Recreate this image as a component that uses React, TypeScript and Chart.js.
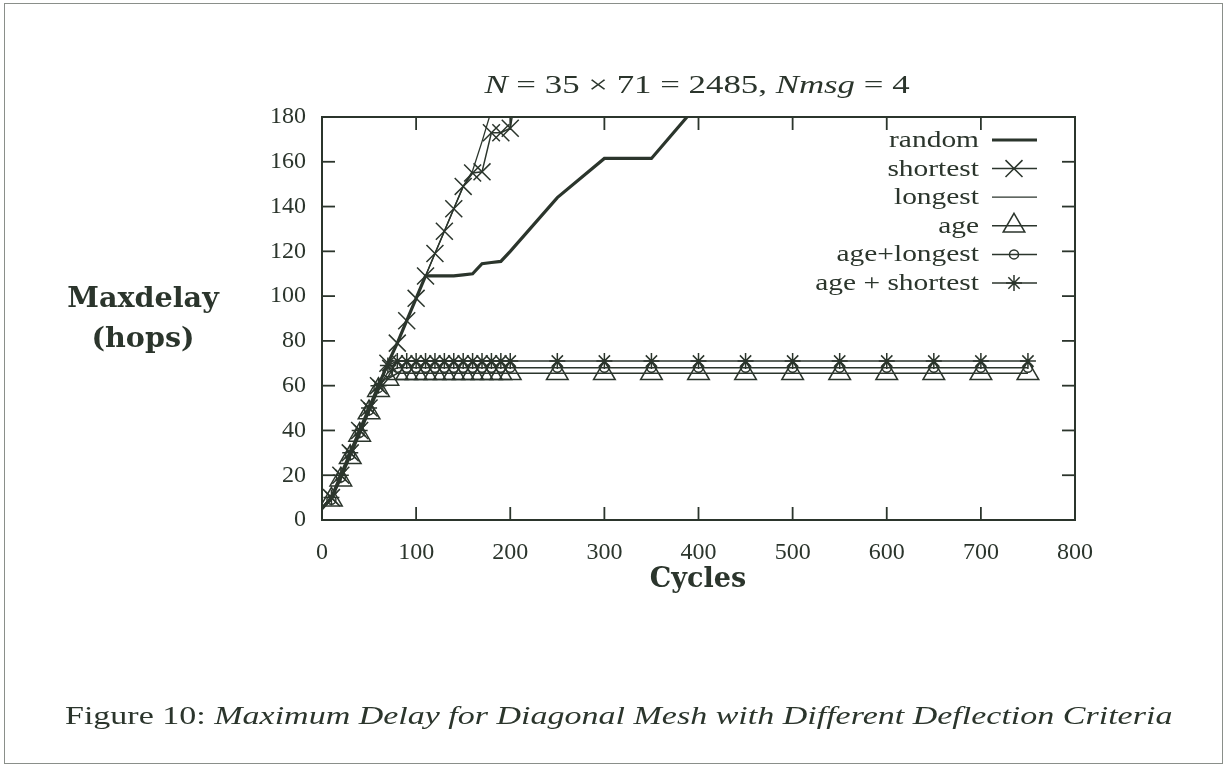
import React, { useEffect, useRef } from 'react';
import { Chart, registerables } from 'chart.js';
import { drawPoint } from 'chart.js/helpers';

Chart.register(...registerables);

const INK = '#2b352c';
const SERIF = "'Liberation Serif', 'DejaVu Serif', serif";

// Cycles (x) for the different runs
const randomX = [0, 10, 20, 30, 40, 50, 60, 70, 80, 90, 100, 110, 120, 130, 140, 150, 160, 170, 180, 190, 200, 250, 300, 350, 400];
const randomY = [5, 10, 20, 30, 40, 50, 60, 70, 79, 89, 99, 109, 109, 109, 109, 109.5, 110, 114.5, 115, 115.5, 120, 144, 161.5, 161.5, 186];

const shortestX = [0, 10, 20, 30, 40, 50, 60, 70, 80, 90, 100, 110, 120, 130, 140, 150, 160, 170, 180, 190, 200, 210];
const shortestY = [5, 10, 20, 30, 40, 50, 60, 70, 79, 89, 99, 109, 119, 129, 139, 149, 155, 155.5, 173, 173, 175, 200];

const longestX = [0, 10, 20, 30, 40, 50, 60, 70, 80, 90, 100, 110, 120, 130, 140, 150, 160, 170, 180];
const longestY = [5, 10, 20, 30, 40, 50, 60, 70, 79, 89, 99, 109, 119, 129, 139, 149, 156, 169, 183];

const ageX = [0, 10, 20, 30, 40, 50, 60, 70, 80, 90, 100, 110, 120, 130, 140, 150, 160, 170, 180, 190, 200, 250, 300, 350, 400, 450, 500, 550, 600, 650, 700, 750];
const ageY = [5, 9, 18, 28, 38, 48, 58, 63, 65.5, 65.5, 65.5, 65.5, 65.5, 65.5, 65.5, 65.5, 65.5, 65.5, 65.5, 65.5, 65.5, 65.5, 65.5, 65.5, 65.5, 65.5, 65.5, 65.5, 65.5, 65.5, 65.5, 65.5];
const ageLongestY = [5, 9, 19, 29, 39, 49, 59, 66, 68, 68, 68, 68, 68, 68, 68, 68, 68, 68, 68, 68, 68, 68, 68, 68, 68, 68, 68, 68, 68, 68, 68, 68];
const ageShortestY = [5, 10, 20, 30, 40, 50, 60, 69, 71, 71, 71, 71, 71, 71, 71, 71, 71, 71, 71, 71, 71, 71, 71, 71, 71, 71, 71, 71, 71, 71, 71, 71];

const xTicks = [0, 100, 200, 300, 400, 500, 600, 700, 800];
const yTicks = [0, 20, 40, 60, 80, 100, 120, 140, 160, 180];

const seriesNames = ['random', 'shortest', 'longest', 'age', 'age+longest', 'age + shortest'];

const pts = (xs: number[], ys: number[]) => xs.map((x, i) => ({ x, y: ys[i] }));
const firstHidden = (r: number) => (c: any) => (c.dataIndex === 0 ? 0 : r);

const frameAndLegend = {
  id: 'frameAndLegend',
  afterDraw(chart: any) {
    const { ctx, chartArea: a, scales } = chart;
    const xs = scales.x;
    const ys = scales.y;
    ctx.save();
    ctx.strokeStyle = INK;
    ctx.lineWidth = 2;
    ctx.strokeRect(a.left, a.top, a.right - a.left, a.bottom - a.top);
    ctx.lineWidth = 1.8;
    const seg = (x1: number, y1: number, x2: number, y2: number) => {
      ctx.beginPath();
      ctx.moveTo(x1, y1);
      ctx.lineTo(x2, y2);
      ctx.stroke();
    };
    const L = 13;
    xTicks.forEach((v) => {
      const px = xs.getPixelForValue(v);
      seg(px, a.bottom, px, a.bottom - L);
      seg(px, a.top, px, a.top + L);
    });
    yTicks.forEach((v) => {
      const py = ys.getPixelForValue(v);
      seg(a.left, py, a.left + L, py);
      seg(a.right, py, a.right - L, py);
    });

    // legend (inside, top right)
    chart.data.datasets.forEach((ds: any, i: number) => {
      const y = a.top + 23 + i * 28.6;
      ctx.save();
      ctx.font = `23px ${SERIF}`;
      ctx.fillStyle = INK;
      ctx.textAlign = 'right';
      ctx.textBaseline = 'middle';
      ctx.translate(a.right - 96, y + 1);
      ctx.scale(1.28, 1);
      ctx.fillText(ds.label, 0, 0);
      ctx.restore();
      ctx.save();
      ctx.lineWidth = ds.borderWidth;
      ctx.strokeStyle = INK;
      seg(a.right - 83, y, a.right - 38, y);
      const r = typeof ds.legendRadius === 'number' ? ds.legendRadius : 0;
      if (r > 0) {
        ctx.fillStyle = 'rgba(0,0,0,0)';
        ctx.lineWidth = ds.pointBorderWidth;
        drawPoint(ctx, {
          pointStyle: ds.pointStyle,
          radius: r,
          rotation: 0,
          borderWidth: ds.pointBorderWidth,
        } as any, a.right - 61, y);
      }
      ctx.restore();
    });
    ctx.restore();
  },
};

export default function App() {
  const ref = useRef<HTMLCanvasElement | null>(null);
  useEffect(() => {
    if (!ref.current) return;
    const common = {
      borderColor: INK,
      pointBorderColor: INK,
      pointBackgroundColor: 'rgba(0,0,0,0)',
      pointBorderWidth: 1.5,
      tension: 0,
      clip: 0,
      fill: false,
    };
    const chart = new Chart(ref.current, {
      type: 'line',
      data: {
        datasets: [
          { ...common, label: seriesNames[0], data: pts(randomX, randomY), borderWidth: 3.2, pointRadius: 0, legendRadius: 0 } as any,
          { ...common, label: seriesNames[1], data: pts(shortestX, shortestY), borderWidth: 1.5, pointStyle: 'crossRot', pointRadius: firstHidden(12), legendRadius: 12 } as any,
          { ...common, label: seriesNames[2], data: pts(longestX, longestY), borderWidth: 1.3, pointRadius: 0, legendRadius: 0 } as any,
          { ...common, label: seriesNames[3], data: pts(ageX, ageY), borderWidth: 1.5, pointStyle: 'triangle', pointRadius: firstHidden(12.5), legendRadius: 12.5 } as any,
          { ...common, label: seriesNames[4], data: pts(ageX, ageLongestY), borderWidth: 1.5, pointStyle: 'circle', pointRadius: firstHidden(4.5), legendRadius: 4.5 } as any,
          { ...common, label: seriesNames[5], data: pts(ageX, ageShortestY), borderWidth: 1.5, pointStyle: 'star', pointRadius: firstHidden(8), legendRadius: 8 } as any,
        ],
      },
      options: {
        responsive: false,
        animation: false,
        events: [],
        layout: { padding: { left: 267, top: 117, right: 154, bottom: 204 } },
        plugins: {
          legend: { display: false },
          tooltip: { enabled: false },
          title: { display: false },
        },
        scales: {
          x: {
            type: 'linear',
            min: 0,
            max: 800,
            afterBuildTicks: (s: any) => {
              s.ticks = xTicks.map((v) => ({ value: v }));
            },
            afterFit: (s: any) => {
              s.height = 45;
            },
            ticks: {
              autoSkip: false,
              maxRotation: 0,
              padding: 18,
              color: INK,
              font: { family: SERIF, size: 24 },
            },
            grid: { display: false, drawTicks: false },
            border: { display: false },
          },
          y: {
            type: 'linear',
            min: 0,
            max: 180,
            afterBuildTicks: (s: any) => {
              s.ticks = yTicks.map((v) => ({ value: v }));
            },
            afterFit: (s: any) => {
              s.width = 55;
            },
            ticks: {
              autoSkip: false,
              padding: 16,
              color: INK,
              font: { family: SERIF, size: 24 },
            },
            grid: { display: false, drawTicks: false },
            border: { display: false },
          },
        },
      } as any,
      plugins: [frameAndLegend],
    });
    return () => chart.destroy();
  }, []);

  const abs = (s: React.CSSProperties): React.CSSProperties => ({ position: 'absolute', color: INK, fontFamily: SERIF, whiteSpace: 'nowrap', lineHeight: 1, ...s });
  const BOLD = "'DejaVu Serif', serif";

  return (
    <div style={{ position: 'absolute', left: 0, top: 0, width: 1229, height: 769, background: '#ffffff', overflow: 'hidden' }}>
      <div style={{ position: 'absolute', left: 4, top: 3, width: 1219, height: 761, border: '1.5px solid #8a8f8a', boxSizing: 'border-box' }} />
      <canvas ref={ref} width={1229} height={769} style={{ position: 'absolute', left: 0, top: 0, width: 1229, height: 769 }} />
      <div style={abs({ left: 397, width: 600, top: 72, textAlign: 'center', fontSize: 26, transform: 'scaleX(1.34)', transformOrigin: '300px 0' })}>
        <i>N</i> = 35 × 71 = 2485, <i>Nmsg</i> = 4
      </div>
      <div style={abs({ left: 43, width: 200, top: 284, textAlign: 'center', fontSize: 27, fontWeight: 'bold', fontFamily: BOLD, transform: 'scaleX(1.06)' })}>Maxdelay</div>
      <div style={abs({ left: 43, width: 200, top: 324, textAlign: 'center', fontSize: 27, fontWeight: 'bold', fontFamily: BOLD, transform: 'scaleX(1.06)' })}>(hops)</div>
      <div style={abs({ left: 598, width: 200, top: 564, textAlign: 'center', fontSize: 27, fontWeight: 'bold', fontFamily: BOLD })}>Cycles</div>
      <div style={abs({ left: 65, top: 703, fontSize: 25, transform: 'scaleX(1.36)', transformOrigin: '0 0' })}>
        Figure 10: <i>Maximum Delay for Diagonal Mesh with Different Deflection Criteria</i>
      </div>
    </div>
  );
}
